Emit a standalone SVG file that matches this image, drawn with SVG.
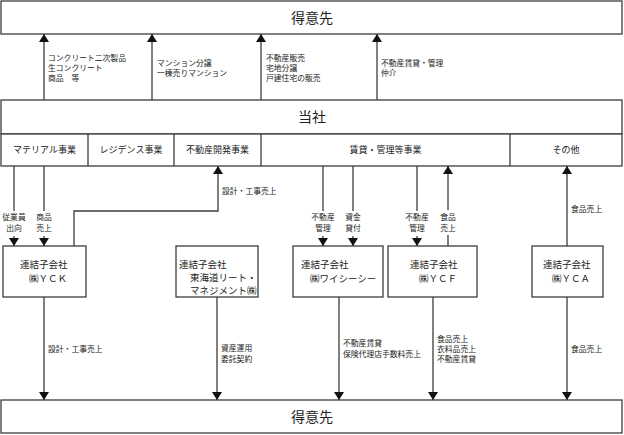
<svg xmlns="http://www.w3.org/2000/svg" width="624" height="435" viewBox="0 0 624 435">
<style>
.box{fill:#fff;stroke:#3c3c3c;stroke-width:1.3}
.ln{fill:none;stroke:#3c3c3c;stroke-width:1.3}
.big{font-family:"Liberation Serif","Noto Sans CJK JP",serif;font-size:14px;fill:#222;text-anchor:middle}
.seg{font-family:"Liberation Serif","Noto Sans CJK JP",serif;font-size:9px;fill:#222;text-anchor:middle}
.bx{font-family:"Liberation Serif","Noto Sans CJK JP",serif;font-size:9.5px;fill:#222}
.lb{font-family:"Liberation Serif","Noto Sans CJK JP",serif;font-size:7.8px;fill:#222}
.lc{font-family:"Liberation Serif","Noto Sans CJK JP",serif;font-size:7.8px;fill:#222;text-anchor:middle}
</style>
<defs>
<marker id="ar" viewBox="0 0 8 10" refX="8" refY="5" markerWidth="8" markerHeight="10" markerUnits="userSpaceOnUse" orient="auto">
<path d="M0,0 L8,5 L0,10 Z" fill="#111"/>
</marker>
</defs>
<rect width="624" height="435" fill="#fff"/>

<g id="customer-top">
<rect class="box" x="1" y="1" width="621" height="33"/>
<text class="big" x="312" y="23">得意先</text>
</g>

<g id="company">
<rect class="box" x="1" y="100" width="621" height="34"/>
<text class="big" x="312" y="122">当社</text>
</g>

<g id="segments">
<rect class="box" x="1" y="134" width="621" height="32"/>
<line class="ln" x1="88" y1="134" x2="88" y2="166"/>
<line class="ln" x1="174" y1="134" x2="174" y2="166"/>
<line class="ln" x1="261" y1="134" x2="261" y2="166"/>
<line class="ln" x1="510" y1="134" x2="510" y2="166"/>
<text class="seg" x="44.5" y="153">マテリアル事業</text>
<text class="seg" x="131" y="153">レジデンス事業</text>
<text class="seg" x="217.5" y="153">不動産開発事業</text>
<text class="seg" x="385.5" y="153">賃貸・管理等事業</text>
<text class="seg" x="566" y="153">その他</text>
</g>

<g id="yck">
<rect class="box" x="3" y="246" width="83" height="51"/>
<text class="bx" x="20" y="268">連結子会社</text>
<text class="bx" x="29" y="282">㈱ＹＣＫ</text>
</g>

<g id="tokai">
<rect class="box" x="176" y="246" width="82" height="51"/>
<text class="bx" x="179" y="268">連結子会社</text>
<text class="bx" x="190" y="281">東海道リート・</text>
<text class="bx" x="190" y="294">マネジメント㈱</text>
</g>

<g id="ycc">
<rect class="box" x="293" y="246" width="90" height="51"/>
<text class="bx" x="301" y="268">連結子会社</text>
<text class="bx" x="310" y="282">㈱ワイシーシー</text>
</g>

<g id="ycf">
<rect class="box" x="388" y="246" width="89" height="51"/>
<text class="bx" x="410" y="268">連結子会社</text>
<text class="bx" x="419" y="282">㈱ＹＣＦ</text>
</g>

<g id="yca">
<rect class="box" x="532" y="246" width="71" height="51"/>
<text class="bx" x="543" y="268">連結子会社</text>
<text class="bx" x="552" y="282">㈱ＹＣＡ</text>
</g>

<g id="customer-bottom">
<rect class="box" x="1" y="400" width="621" height="33"/>
<text class="big" x="312" y="422">得意先</text>
</g>

<g id="connectors">
<line class="ln" x1="44" y1="100" x2="44" y2="34" marker-end="url(#ar)"/>
<line class="ln" x1="152" y1="100" x2="152" y2="34" marker-end="url(#ar)"/>
<line class="ln" x1="261" y1="100" x2="261" y2="34" marker-end="url(#ar)"/>
<line class="ln" x1="377" y1="100" x2="377" y2="34" marker-end="url(#ar)"/>
<text class="lb" x="48" y="61">コンクリート二次製品</text>
<text class="lb" x="48" y="71">生コンクリート</text>
<text class="lb" x="48" y="81">商品　等</text>
<text class="lb" x="157" y="66">マンション分譲</text>
<text class="lb" x="157" y="76">一棟売りマンション</text>
<text class="lb" x="266" y="61">不動産販売</text>
<text class="lb" x="266" y="71">宅地分譲</text>
<text class="lb" x="266" y="81">戸建住宅の販売</text>
<text class="lb" x="381" y="66">不動産賃貸・管理</text>
<text class="lb" x="381" y="76">仲介</text>

<line class="ln" x1="14" y1="166" x2="14" y2="211"/>
<line class="ln" x1="14" y1="236" x2="14" y2="246" marker-end="url(#ar)"/>
<text class="lc" x="14" y="220">従業員</text>
<text class="lc" x="14" y="231">出向</text>
<line class="ln" x1="44" y1="166" x2="44" y2="211"/>
<line class="ln" x1="44" y1="236" x2="44" y2="246" marker-end="url(#ar)"/>
<text class="lc" x="44" y="220">商品</text>
<text class="lc" x="44" y="231">売上</text>

<path class="ln" d="M74,246 V211 H218 V166" marker-end="url(#ar)"/>
<text class="lb" x="222" y="194">設計・工事売上</text>

<line class="ln" x1="323" y1="166" x2="323" y2="211"/>
<line class="ln" x1="323" y1="236" x2="323" y2="246" marker-end="url(#ar)"/>
<text class="lc" x="323" y="220">不動産</text>
<text class="lc" x="323" y="231">管理</text>
<line class="ln" x1="353" y1="166" x2="353" y2="211"/>
<line class="ln" x1="353" y1="236" x2="353" y2="246" marker-end="url(#ar)"/>
<text class="lc" x="353" y="220">資金</text>
<text class="lc" x="353" y="231">貸付</text>
<line class="ln" x1="417" y1="166" x2="417" y2="211"/>
<line class="ln" x1="417" y1="236" x2="417" y2="246" marker-end="url(#ar)"/>
<text class="lc" x="417" y="220">不動産</text>
<text class="lc" x="417" y="231">管理</text>
<line class="ln" x1="448" y1="246" x2="448" y2="235"/>
<line class="ln" x1="448" y1="210" x2="448" y2="166" marker-end="url(#ar)"/>
<text class="lc" x="448" y="220">食品</text>
<text class="lc" x="448" y="231">売上</text>
<line class="ln" x1="567" y1="246" x2="567" y2="166" marker-end="url(#ar)"/>
<text class="lb" x="571" y="212">食品売上</text>

<line class="ln" x1="44" y1="297" x2="44" y2="400" marker-end="url(#ar)"/>
<text class="lb" x="48" y="352">設計・工事売上</text>
<line class="ln" x1="217" y1="297" x2="217" y2="400" marker-end="url(#ar)"/>
<text class="lb" x="221" y="351">資産運用</text>
<text class="lb" x="221" y="362">委託契約</text>
<line class="ln" x1="339" y1="297" x2="339" y2="400" marker-end="url(#ar)"/>
<text class="lb" x="343" y="346">不動産賃貸</text>
<text class="lb" x="343" y="357">保険代理店手数料売上</text>
<line class="ln" x1="433" y1="297" x2="433" y2="400" marker-end="url(#ar)"/>
<text class="lb" x="437" y="342">食品売上</text>
<text class="lb" x="437" y="352">衣料品売上</text>
<text class="lb" x="437" y="362">不動産賃貸</text>
<line class="ln" x1="567" y1="297" x2="567" y2="400" marker-end="url(#ar)"/>
<text class="lb" x="571" y="352">食品売上</text>
</g>
</svg>
